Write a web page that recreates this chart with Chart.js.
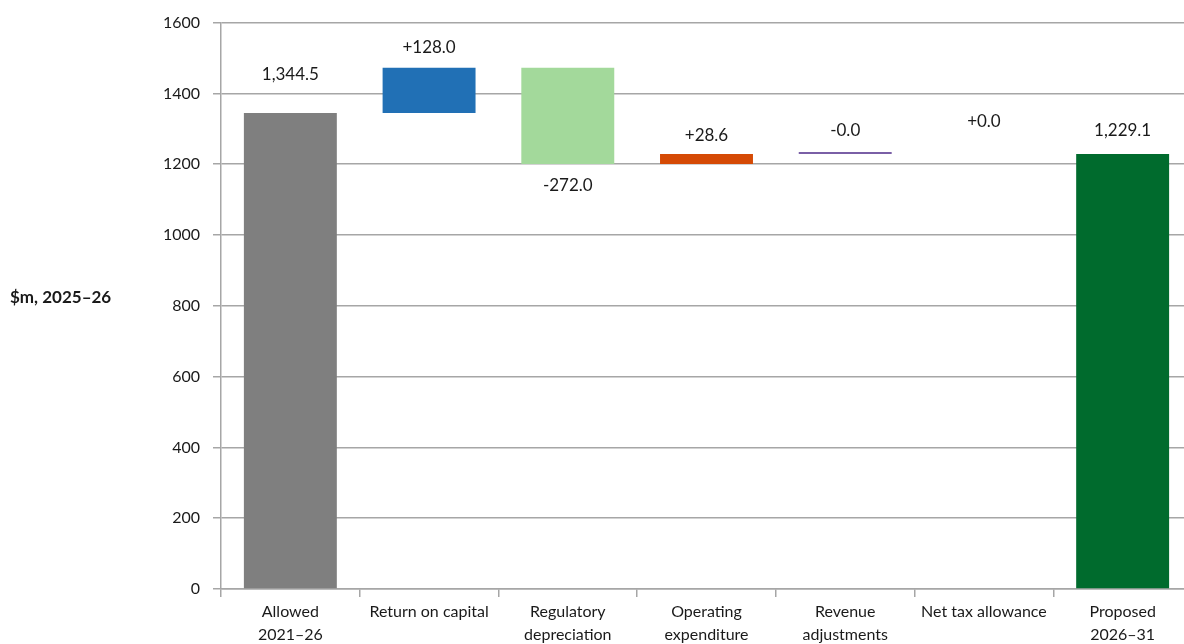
<!DOCTYPE html>
<html>
<head>
<meta charset="utf-8">
<script src="https://cdn.jsdelivr.net/npm/chart.js@4.4.1/dist/chart.umd.min.js"></script>
<style>
  html, body { margin: 0; padding: 0; background: #fff; overflow: hidden; }
  #wrap { width: 1192px; height: 644px; }
</style>
</head>
<body>
<div id="wrap"><canvas id="revChart"></canvas></div>
<script>
// categories of the revenue bridge
const categories = [
  ['Allowed', '2021–26'],
  'Return on capital',
  ['Regulatory', 'depreciation'],
  ['Operating', 'expenditure'],
  ['Revenue', 'adjustments'],
  'Net tax allowance',
  ['Proposed', '2026–31']
];
// first and last are totals, the rest are changes ($m)
const kinds = ['total', 'delta', 'delta', 'delta', 'delta', 'delta', 'total'];
const amounts = [1344.5, 128.0, -272.0, 28.6, -0.04, 0.0, 1229.1];
const yTicks = [0, 200, 400, 600, 800, 1000, 1200, 1400, 1600];

const barColours = ['#7f7f7f', '#2170b5', '#a3d99b', '#d54a05', '#7a5fa6', 'rgba(0,0,0,0)', '#006b2d'];
// pixel gap between bar end and its value label
const labelGap = [39, 20, 21, 18, 21, 30, 23];
const FONT = 'Lato, "Noto Sans", sans-serif';

// build floating [from, to] pairs for the waterfall
const floating = [];
let running = 0;
amounts.forEach((v, i) => {
  if (kinds[i] === 'total') {
    floating.push([0, v]);
    running = v;
  } else {
    floating.push([running, running + v]);
    running += v;
  }
});

function fmt(v, kind) {
  const s = Math.abs(v).toLocaleString('en-US', { minimumFractionDigits: 1, maximumFractionDigits: 1 });
  if (kind === 'total') return s;
  return (v < 0 ? '-' : '+') + s;
}

const labelPlugin = {
  id: 'barLabels',
  afterDatasetsDraw(chart) {
    const { ctx } = chart;
    const meta = chart.getDatasetMeta(0);
    ctx.save();
    ctx.font = '17px ' + FONT;
    ctx.fillStyle = '#1a1a1a';
    ctx.textAlign = 'center';
    ctx.textBaseline = 'middle';
    meta.data.forEach((bar, i) => {
      const v = amounts[i];
      const top = Math.min(bar.y, bar.base);
      const bottom = Math.max(bar.y, bar.base);
      const y = (kinds[i] === 'delta' && v < -1) ? bottom + labelGap[i] : top - labelGap[i];
      ctx.fillText(fmt(v, kinds[i]), bar.x, y);
    });
    ctx.restore();
  }
};

// horizontal axis title on the left
const yTitlePlugin = {
  id: 'yTitle',
  afterDraw(chart) {
    const { ctx } = chart;
    ctx.save();
    ctx.font = 'bold 17px ' + FONT;
    ctx.fillStyle = '#1a1a1a';
    ctx.textAlign = 'left';
    ctx.textBaseline = 'middle';
    ctx.fillText('$m, 2025–26', 10, 298);
    ctx.restore();
  }
};

new Chart(document.getElementById('revChart'), {
  type: 'bar',
  data: {
    labels: categories,
    datasets: [{
      data: floating,
      backgroundColor: barColours,
      borderWidth: 0,
      minBarLength: 2,
      barPercentage: 0.67,
      categoryPercentage: 1
    }]
  },
  options: {
    responsive: true,
    maintainAspectRatio: false,
    animation: false,
    layout: { padding: { top: 21, right: 0, left: 0, bottom: 0 } },
    plugins: {
      legend: { display: false },
      tooltip: { enabled: false }
    },
    scales: {
      x: {
        grid: {
          offset: true,
          drawOnChartArea: false,
          drawTicks: true,
          tickLength: 8,
          color: '#a6a6a6',
          lineWidth: 1.5
        },
        border: { color: '#a6a6a6', width: 1.5 },
        ticks: {
          color: '#1a1a1a',
          font: { family: FONT, size: 16, lineHeight: 1.4 },
          padding: 4,
          maxRotation: 0,
          autoSkip: false
        },
        afterFit(s) { s.height = 55; }
      },
      y: {
        min: 0,
        max: 1600,
        afterBuildTicks(s) { s.ticks = yTicks.map(v => ({ value: v })); },
        grid: { color: '#a6a6a6', lineWidth: 1.5, tickLength: 8 },
        border: { color: '#a6a6a6', width: 1.5 },
        ticks: {
          color: '#1a1a1a',
          font: { family: FONT, size: 16 },
          padding: 13,
          callback: v => String(v)
        },
        afterFit(s) { s.width = 221; }
      }
    }
  },
  plugins: [labelPlugin, yTitlePlugin]
});
</script>
</body>
</html>
